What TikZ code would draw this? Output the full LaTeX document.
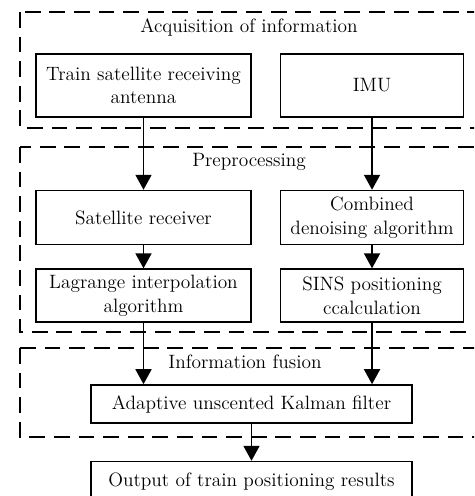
\documentclass[tikz,border=0pt]{standalone}
\usetikzlibrary{positioning}
\usetikzlibrary{arrows.meta}

\begin{document}
\begin{tikzpicture}[x=0.02cm, y=-0.02cm,
	blk/.style = {draw, line width=0.9pt, align=center, inner sep=0pt, font=\fontsize{11}{13.5}\selectfont},
	ttl/.style = {font=\fontsize{11}{13.5}\selectfont},
	grp/.style = {line width=1.1pt, dash pattern=on 9pt off 5pt},
	arr/.style = {line width=1pt, -{Triangle[length=0.3cm, width=0.32cm]}}]
	\useasboundingbox (0,0) rectangle (474,496);
	\clip (0,0) rectangle (474,496);
	
	% dashed stages
	\draw[grp] (20,12) rectangle (480,128);
	\draw[grp] (20,147) rectangle (480,332);
	\draw[grp] (20,348) rectangle (480,437);
	
	\node[ttl] (T1) at (249,27) {Acquisition of information};
	\node[ttl] (T2) at (249,162) {Preprocessing};
	\node[ttl] (T3) at (245,362) {Information fusion};
	
	\node[blk, minimum width=4.3cm, minimum height=1.26cm] (ant) at (143.5,85.5) {Train satellite receiving\\antenna};
	\node[blk, minimum width=3.66cm, minimum height=1.26cm, right = 0.56cm of ant] (imu) {IMU};
	\node[blk, minimum width=4.3cm, minimum height=1.08cm, below = 1.44cm of ant] (rcv) {Satellite receiver};
	\node[blk, minimum width=3.66cm, minimum height=1.08cm, below = 1.44cm of imu] (dns) {Combined\\denoising algorithm};
	\node[blk, minimum width=4.3cm, minimum height=1.06cm, below = 0.46cm of rcv] (lag) {Lagrange interpolation\\algorithm};
	\node[blk, minimum width=3.66cm, minimum height=1.06cm, below = 0.46cm of dns] (sins) {SINS positioning\\ccalculation};
	\node[blk, minimum width=6.42cm, minimum height=0.76cm] (ukf) at (251.5,404) {Adaptive unscented Kalman filter};
	\node[blk, minimum width=6.42cm, minimum height=0.8cm, below = 0.74cm of ukf] (out) {Output of train positioning results};
	
	\draw[arr] (ant) -- (rcv);
	\draw[arr] (imu) -- (dns);
	\draw[arr] (rcv) -- (lag);
	\draw[arr] (dns) -- (sins);
	\draw[arr] (lag.south) -- (lag.south |- ukf.north);
	\draw[arr] (sins.south) -- (sins.south |- ukf.north);
	\draw[arr] (ukf) -- (out);
\end{tikzpicture}
\end{document}
